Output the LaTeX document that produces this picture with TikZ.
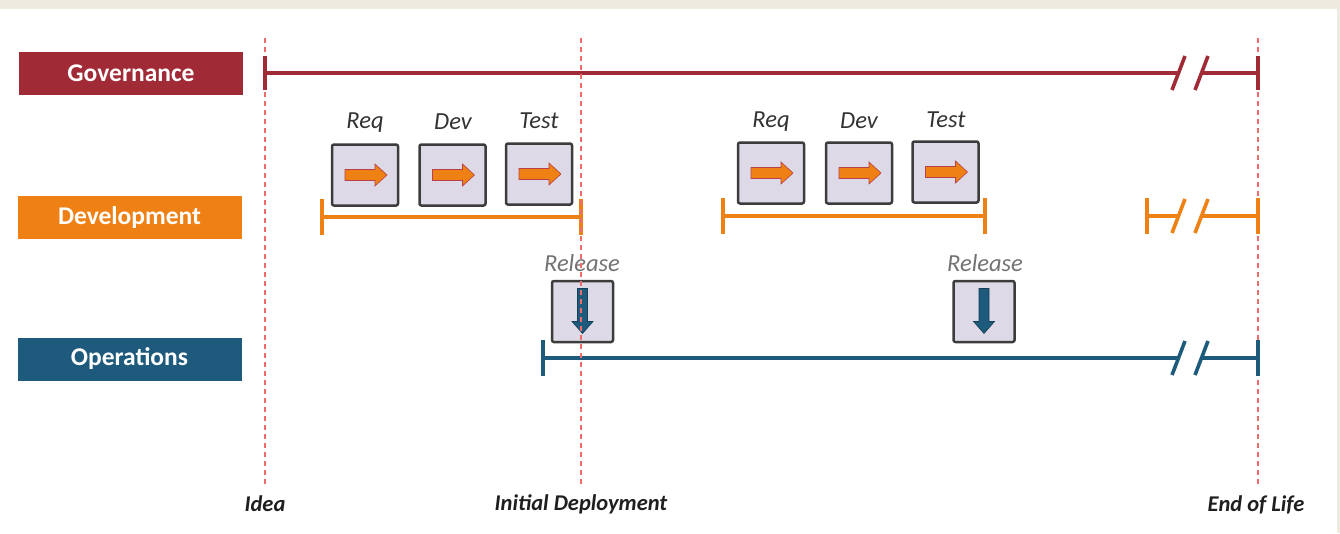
\documentclass[tikz,border=0pt]{standalone}
\usepackage{fontspec}
\setmainfont{Carlito}
\usetikzlibrary{calc}
\definecolor{gov}{HTML}{A12A37}
\definecolor{devc}{HTML}{EF8014}
\definecolor{ops}{HTML}{1E5A7B}
\definecolor{band}{HTML}{EDEBE0}
\definecolor{boxfill}{HTML}{DDD9E6}
\definecolor{boxedge}{HTML}{3C3C3C}
\definecolor{redash}{HTML}{F26B6B}
\tikzset{
  lane/.style={minimum width=224pt, minimum height=43pt, inner sep=0pt, text=white, font=\bfseries\fontsize{25.5}{25.5}\selectfont},
  stepbox/.style={draw=boxedge, fill=boxfill, line width=2.5pt, rounded corners=2pt, minimum width=66pt, minimum height=61pt, inner sep=0pt},
  steplabel/.style={font=\itshape\fontsize{24.5}{24.5}\selectfont, text=black!80},
  rellabel/.style={font=\itshape\fontsize{24.5}{24.5}\selectfont, text=black!55},
  milestone/.style={font=\bfseries\itshape\fontsize{22.5}{22.5}\selectfont, text=black!88},
  vdash/.style={draw=redash, line width=1.6pt, dash pattern=on 5pt off 4pt},
  tl/.style={line width=3.6pt},
  pics/rarrow/.style={code={
    \fill[devc, draw=violet!50!devc, line width=0.6pt] (-20,-5.5) -- (10,-5.5) -- (10,-11) -- (22,0) -- (10,11) -- (10,5.5) -- (-20,5.5) -- cycle;}},
  pics/darrow/.style={code={
    \fill[ops, draw=ops!70!black, line width=0.6pt] (-5,-23) -- (-5,10) -- (-10.5,10) -- (0,22) -- (10.5,10) -- (5,10) -- (5,-23) -- cycle;}}
}
\newcommand{\brk}[3]{% x of first slash bottom, y, colour
  \draw[#3, line width=3.6pt] (#1,#2+17) -- (#1+13,#2-17);
  \draw[#3, line width=3.6pt] (#1+23,#2+17) -- (#1+36,#2-17);}
\begin{document}
\begin{tikzpicture}[x=1pt,y=-1pt]
\useasboundingbox (0,0) rectangle (1340,533);
\fill[white] (0,0) rectangle (1340,533);
\fill[band] (0,0) rectangle (1340,9);
\fill[band] (1337,0) rectangle (1340,533);

% vertical milestone lines (Idea and End of Life behind)
\coordinate (i1) at (265,38); \coordinate (i2) at (265,487);
\coordinate (d1) at (581,38); \coordinate (d2) at (581,487);
\coordinate (e1) at (1258,38); \coordinate (e2) at (1258,487);
\draw[vdash] (i1) -- (i2);
\draw[vdash] (e1) -- (e2);

% lanes
\node[lane, fill=gov] (govl) at (131,73.5) {Governance};
\node[lane, fill=devc] (devl) at (129.5,217.5) {Development};
\node[lane, fill=ops] (opsl) at (129.5,359) {Operations};

% governance line
\coordinate (g0) at (265,73); \coordinate (g1) at (1179,73);
\coordinate (g2) at (1201,73); \coordinate (g3) at (1258,73);
\draw[gov, tl] (g0) -- (g1);
\draw[gov, tl] (g2) -- (g3);
\draw[gov, tl] (265,56) -- (265,90);
\draw[gov, tl] (1258,56) -- (1258,90);
\brk{1172}{73}{gov}

% development lines
\coordinate (a0) at (322,217); \coordinate (a1) at (581,217);
\coordinate (b0) at (723,216); \coordinate (b1) at (985,216);
\coordinate (c0) at (1147,216); \coordinate (c1) at (1179,216);
\coordinate (c2) at (1201,216); \coordinate (c3) at (1258,216);
\draw[devc, tl] (a0) -- (a1);
\draw[devc, tl] (322,199) -- (322,235);
\draw[devc, tl] (581,199) -- (581,235);
\draw[devc, tl] (b0) -- (b1);
\draw[devc, tl] (723,198) -- (723,234);
\draw[devc, tl] (985,198) -- (985,234);
\draw[devc, tl] (c0) -- (c1);
\draw[devc, tl] (c2) -- (c3);
\draw[devc, tl] (1147,198) -- (1147,234);
\draw[devc, tl] (1258,198) -- (1258,234);
\brk{1172}{216}{devc}

% operations line
\coordinate (o0) at (543,358); \coordinate (o1) at (1179,358);
\coordinate (o2) at (1201,358); \coordinate (o3) at (1258,358);
\draw[ops, tl] (o0) -- (o1);
\draw[ops, tl] (o2) -- (o3);
\draw[ops, tl] (543,340) -- (543,376);
\draw[ops, tl] (1258,340) -- (1258,376);
\brk{1172}{358}{ops}

% step boxes, group 1
\node[stepbox] (r1) at (365,175) {};
\node[stepbox] (v1) at (452.5,175) {};
\node[stepbox] (t1) at (539,174) {};
\node[steplabel] at (365,123) {Req};
\node[steplabel] at (453,122) {Dev};
\node[steplabel] at (539,121) {Test};
\pic at (r1) {rarrow}; \pic at (v1) {rarrow}; \pic at (t1) {rarrow};

% step boxes, group 2
\node[stepbox] (r2) at (771,173) {};
\node[stepbox] (v2) at (859,173) {};
\node[stepbox] (t2) at (945.5,172) {};
\node[steplabel] at (771,122) {Req};
\node[steplabel] at (859,121) {Dev};
\node[steplabel] at (946,120) {Test};
\pic at (r2) {rarrow}; \pic at (v2) {rarrow}; \pic at (t2) {rarrow};

% release boxes
\node[stepbox, minimum width=61pt] (rel1) at (582.5,311.5) {};
\node[stepbox, minimum width=61pt] (rel2) at (984,311.5) {};
\node[rellabel] at (582,263) {Release};
\node[rellabel] at (985,263) {Release};
\pic at (rel1) {darrow}; \pic at (rel2) {darrow};

% initial deployment line drawn on top
\draw[vdash] (d1) -- (d2);

% milestones
\node[milestone] (idea) at (265,504) {Idea};
\node[milestone] (init) at (581,504) {Initial Deployment};
\node[milestone] (eol) at (1256,505) {End of Life};
\end{tikzpicture}
\end{document}
